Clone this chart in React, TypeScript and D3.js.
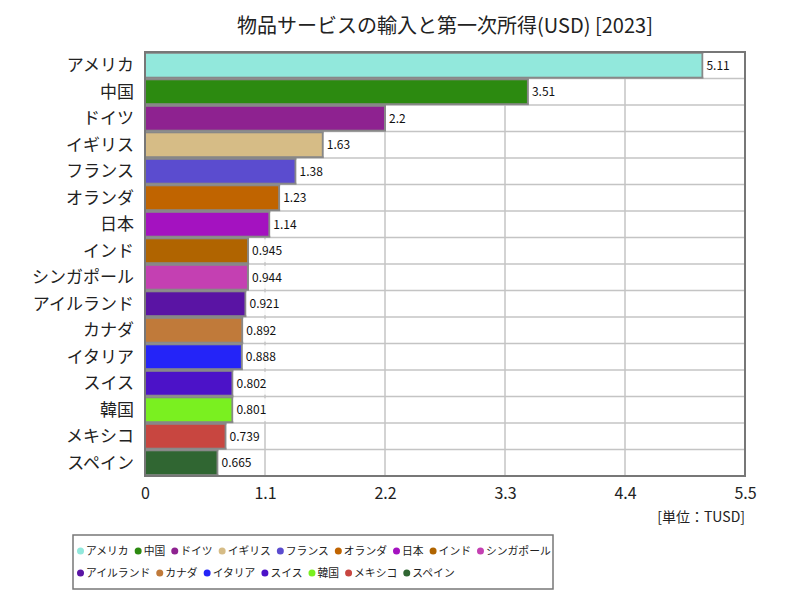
import * as d3 from "d3";
import { useEffect, useRef } from "react";

const countries = [
  "アメリカ", "中国", "ドイツ", "イギリス", "フランス", "オランダ", "日本", "インド",
  "シンガポール", "アイルランド", "カナダ", "イタリア", "スイス", "韓国", "メキシコ", "スペイン",
];
const values = [5.11, 3.51, 2.2, 1.63, 1.38, 1.23, 1.14, 0.945, 0.944, 0.921, 0.892, 0.888, 0.802, 0.801, 0.739, 0.665];
const colors = [
  "#92e8dc", "#2c8a10", "#8e2290", "#d6bc86", "#5b4ccf", "#c06400", "#a412c0", "#b06400",
  "#c440b2", "#5a14a4", "#c07a3a", "#2424f8", "#4c12c8", "#7af020", "#c84640", "#306632",
];
const ticks = [0, 1.1, 2.2, 3.3, 4.4, 5.5];
// legend items per row
const legendRows = [9, 7];

const FONT = "'Noto Sans CJK JP', sans-serif";

export default function App() {
  const ref = useRef<SVGSVGElement | null>(null);

  useEffect(() => {
    const svg = d3.select(ref.current as SVGSVGElement);
    svg.selectAll("*").remove();

    const width = 800;
    const height = 600;
    const margin = { top: 52, right: 55, bottom: 124, left: 145 };
    svg.attr("viewBox", `0 0 ${width} ${height}`);

    const x = d3.scaleLinear().domain([0, 5.5]).range([margin.left, width - margin.right]);
    const y = d3
      .scaleBand<string>()
      .domain(countries)
      .range([margin.top, height - margin.bottom])
      .paddingInner(0.06)
      .paddingOuter(0.03);

    // title
    svg
      .append("text")
      .attr("x", (margin.left + width - margin.right) / 2)
      .attr("y", 33)
      .attr("text-anchor", "middle")
      .attr("font-family", FONT)
      .attr("font-size", "20px")
      .attr("fill", "#222")
      .text("物品サービスの輸入と第一次所得(USD) [2023]");

    // plot background
    svg
      .append("rect")
      .attr("x", margin.left)
      .attr("y", margin.top)
      .attr("width", x(5.5) - x(0))
      .attr("height", height - margin.bottom - margin.top)
      .attr("fill", "#fff");

    // grid
    const rowStep = (height - margin.bottom - margin.top) / countries.length;
    const grid = svg.append("g").attr("stroke", "#c4c4c4").attr("stroke-width", 1.5);
    countries.forEach((_, i) => {
      const yy = margin.top + rowStep * i;
      grid.append("line").attr("x1", x(0)).attr("x2", x(5.5)).attr("y1", yy).attr("y2", yy);
    });
    ticks.forEach((t) => {
      grid
        .append("line")
        .attr("x1", x(t))
        .attr("x2", x(t))
        .attr("y1", margin.top)
        .attr("y2", height - margin.bottom);
    });

    // bars
    svg
      .append("g")
      .selectAll("rect")
      .data(countries)
      .enter()
      .append("rect")
      .attr("x", x(0))
      .attr("y", (d) => y(d)!)
      .attr("width", (_, i) => x(values[i]) - x(0))
      .attr("height", y.bandwidth())
      .attr("fill", (_, i) => colors[i])
      .attr("stroke", "#888")
      .attr("stroke-width", 2);

    // value labels
    const lab = svg.append("g");
    countries.forEach((c, i) => {
      const g = lab.append("g");
      const bx = x(values[i]) + 1;
      const rect = g
        .append("rect")
        .attr("x", bx)
        .attr("y", y(c)! + 1)
        .attr("height", y.bandwidth() - 2)
        .attr("fill", "#fff")
        .attr("fill-opacity", 0.85);
      const txt = g
        .append("text")
        .attr("x", bx + 3)
        .attr("y", y(c)! + y.bandwidth() / 2 + 4.5)
        .attr("font-family", FONT)
        .attr("font-size", "12px")
        .attr("fill", "#111")
        .text(String(values[i]));
      const w = (txt.node() as SVGTextElement).getComputedTextLength();
      rect.attr("width", w + 7);
    });

    // frame
    svg
      .append("rect")
      .attr("x", margin.left)
      .attr("y", margin.top)
      .attr("width", x(5.5) - x(0))
      .attr("height", height - margin.bottom - margin.top)
      .attr("fill", "none")
      .attr("stroke", "#777")
      .attr("stroke-width", 2);

    // category labels
    svg
      .append("g")
      .selectAll("text")
      .data(countries)
      .enter()
      .append("text")
      .attr("x", 134)
      .attr("y", (d) => y(d)! + y.bandwidth() / 2 + 6)
      .attr("text-anchor", "end")
      .attr("font-family", FONT)
      .attr("font-size", "17px")
      .attr("fill", "#222")
      .text((d) => d);

    // x axis
    const axis = svg
      .append("g")
      .attr("transform", `translate(0,${height - margin.bottom})`)
      .call(
        d3
          .axisBottom(x)
          .tickValues(ticks)
          .tickSize(0)
          .tickPadding(12)
          .tickFormat((d) => String(d))
      );
    axis.select(".domain").remove();
    axis.selectAll("text").attr("font-family", FONT).attr("font-size", "16px").attr("fill", "#222");

    svg
      .append("text")
      .attr("x", width - margin.right)
      .attr("y", 522)
      .attr("text-anchor", "end")
      .attr("font-family", FONT)
      .attr("font-size", "14px")
      .attr("fill", "#222")
      .text("[単位：TUSD]");

    // legend
    const lx0 = 73;
    const ly0 = 535;
    const lw = 480;
    const lh = 54;
    svg
      .append("rect")
      .attr("x", lx0)
      .attr("y", ly0)
      .attr("width", lw)
      .attr("height", lh)
      .attr("fill", "#fff")
      .attr("stroke", "#777")
      .attr("stroke-width", 1.5);

    const leg = svg.append("g");
    let idx = 0;
    legendRows.forEach((n, row) => {
      let cx = lx0 + 4;
      const cy = ly0 + 16 + row * 22;
      for (let k = 0; k < n; k++, idx++) {
        const item = leg.append("g");
        item
          .append("circle")
          .attr("cx", cx + 3.5)
          .attr("cy", cy)
          .attr("r", 3.5)
          .attr("fill", colors[idx]);
        const t = item
          .append("text")
          .attr("x", cx + 9)
          .attr("y", cy + 4)
          .attr("font-family", FONT)
          .attr("font-size", "10.8px")
          .attr("fill", "#222")
          .text(countries[idx]);
        const tw = (t.node() as SVGTextElement).getComputedTextLength();
        cx += 9 + tw + 6;
      }
    });
  }, []);

  return (
    <svg
      ref={ref}
      width={800}
      height={600}
      style={{ position: "absolute", left: 0, top: 0, background: "#fff" }}
    />
  );
}
